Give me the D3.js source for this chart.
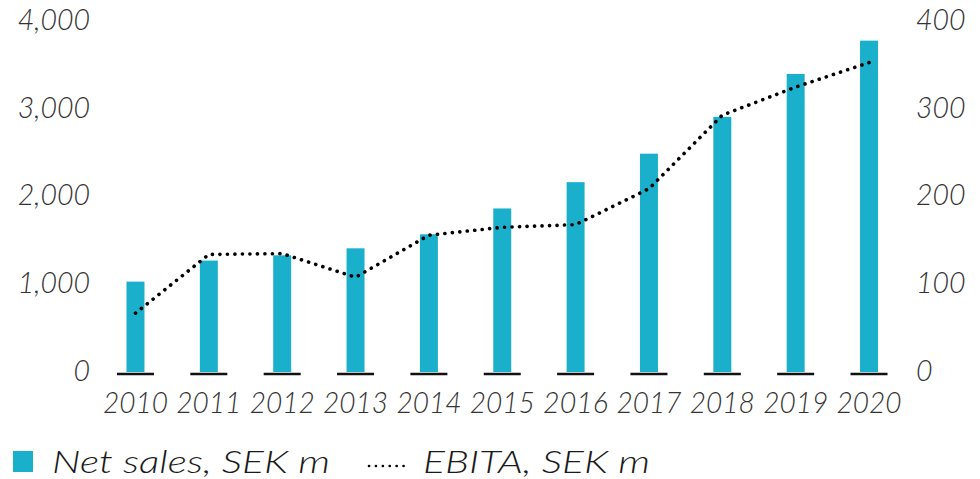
<!DOCTYPE html>
<html><head><meta charset="utf-8">
<script src="https://cdn.jsdelivr.net/npm/d3@7"></script>
<style>
html,body{margin:0;padding:0;background:#fff;}
text{font-family:Lato,"Open Sans",sans-serif;font-style:italic;font-weight:300;}
</style></head>
<body>
<svg id="c" width="980" height="479"></svg>
<script>
const years = ["2010","2011","2012","2013","2014","2015","2016","2017","2018","2019","2020"];
const netSales = [1020, 1260, 1320, 1400, 1560, 1855, 2155, 2480, 2900, 3390, 3770];
const ebita = [66, 133, 134, 107, 155, 164, 167, 208, 292, 324, 352];
const leftTicks = [0, 1000, 2000, 3000, 4000];
const rightTicks = [0, 100, 200, 300, 400];

const svg = d3.select("#c");
const x = d3.scaleBand().domain(years).range([98.8, 905.7]).paddingInner(0.755).paddingOuter(0.3775);
const yL = d3.scaleLinear().domain([0, 4000]).range([371, 20.5]);
const yR = d3.scaleLinear().domain([0, 400]).range([371, 20.5]);

// bars
svg.append("g").selectAll("rect").data(years).join("rect")
  .attr("x", d => x(d)).attr("width", x.bandwidth())
  .attr("y", (d,i) => yL(netSales[i])).attr("height", (d,i) => yL(0) - yL(netSales[i]) + 1)
  .attr("fill", "#1aafca");

// baseline segments
svg.append("g").selectAll("line").data(years).join("line")
  .attr("x1", d => x(d) + x.bandwidth()/2 - 18.5).attr("x2", d => x(d) + x.bandwidth()/2 + 18.5)
  .attr("y1", 374).attr("y2", 374).attr("stroke", "#111").attr("stroke-width", 2.6);

// ebita line
const line = d3.line().x((d,i) => x(years[i]) + x.bandwidth()/2).y(d => yR(d));
svg.append("path").datum(ebita).attr("d", line)
  .attr("fill", "none").attr("stroke", "#000").attr("stroke-width", 3.6)
  .attr("stroke-linecap", "round").attr("stroke-dasharray", "0.1 7.4");

// axes
const axL = d3.axisLeft(yL).tickValues(leftTicks).tickFormat(d3.format(",")).tickSize(0).tickPadding(0);
const gL = svg.append("g").attr("transform", "translate(90,0)").call(axL);
const axR = d3.axisRight(yR).tickValues(rightTicks).tickFormat(d3.format("d")).tickSize(0).tickPadding(0);
const gR = svg.append("g").attr("transform", "translate(916,0)").call(axR);
const axB = d3.axisBottom(x).tickSize(0).tickPadding(0);
const gB = svg.append("g").attr("transform", "translate(0,403)").call(axB);
[gL, gR, gB].forEach(g => {
  g.select(".domain").remove();
  g.selectAll("text").attr("font-size", 28.5).attr("fill", "#333")
    .style("font-family", "Lato,'Open Sans',sans-serif").style("font-style","italic").style("font-weight",300);
});
gB.selectAll("text").attr("dy", "0.35em").attr("textLength", 65).attr("lengthAdjust", "spacingAndGlyphs");

// legend
const lg = svg.append("g");
lg.append("rect").attr("x", 13).attr("y", 451).attr("width", 20).attr("height", 21).attr("fill", "#1aafca");
lg.append("text").attr("x", 52).attr("y", 473).attr("font-size", 32).attr("fill", "#1a1a1a")
  .attr("textLength", 278).attr("lengthAdjust", "spacingAndGlyphs").text("Net sales, SEK m");
lg.append("line").attr("x1", 369).attr("x2", 404).attr("y1", 466).attr("y2", 466)
  .attr("stroke", "#000").attr("stroke-width", 2.6).attr("stroke-linecap", "round").attr("stroke-dasharray", "0.1 6.8");
lg.append("text").attr("x", 423).attr("y", 473).attr("font-size", 32).attr("fill", "#1a1a1a")
  .attr("textLength", 227).attr("lengthAdjust", "spacingAndGlyphs").text("EBITA, SEK m");
</script>
</body></html>
